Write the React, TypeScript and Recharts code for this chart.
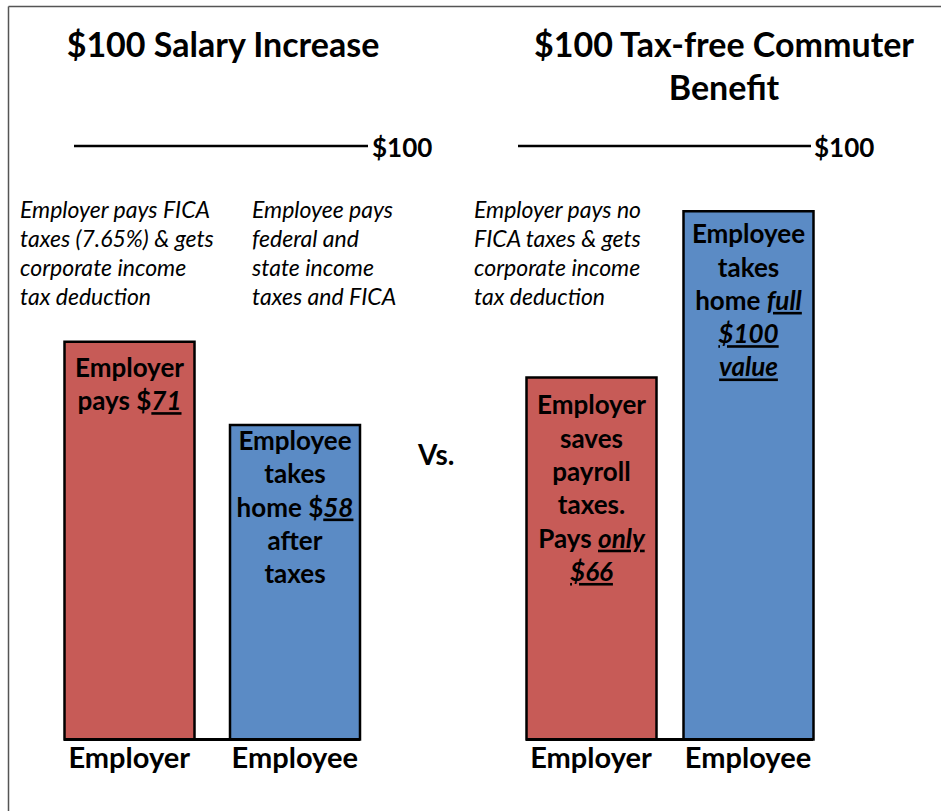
import React from 'react';
import { BarChart, Bar, XAxis, YAxis, Cell, LabelList, ReferenceLine } from 'recharts';

// ---------- data ----------
const categories = ['Employer', 'Employee'];
// bar heights as drawn, read against the $100 reference line
const salaryValues = [67, 53];
const commuterValues = [61, 89];
const referenceValue = 100;
const referenceLabel = '$100';
const salaryTitle = ['$100 Salary Increase'];
const commuterTitle = ['$100 Tax-free Commuter', 'Benefit'];
const salaryNotes = [
  ['Employer pays FICA', 'taxes (7.65%) & gets', 'corporate income', 'tax deduction'],
  ['Employee pays', 'federal and', 'state income', 'taxes and FICA'],
];
const commuterNotes = [['Employer pays no', 'FICA taxes & gets', 'corporate income', 'tax deduction']];
// segments wrapped in _..._ are italic + underlined
const salaryBarText = [
  ['Employer', 'pays $_71_'],
  ['Employee', 'takes', 'home $_58_', 'after', 'taxes'],
];
const commuterBarText = [
  ['Employer', 'saves', 'payroll', 'taxes.', 'Pays _only_', '_$66_'],
  ['Employee', 'takes', 'home _full_', '_$100_', '_value_'],
];
const versusLabel = 'Vs.';
const seriesColors = ['#C75B57', '#5B8BC5'];

// ---------- style ----------
const FONT = "Lato, 'Liberation Sans', sans-serif";
const W = 941;
const H = 811;

function renderStyledLines(lines: string[], cx: number, y0: number, lh: number, fontSize: number) {
  return (
    <text x={cx} y={y0} textAnchor="middle" fontFamily={FONT} fontWeight={700} fontSize={fontSize} fill="#000">
      {lines.map((line, li) => (
        <tspan key={li} x={cx} y={y0 + li * lh}>
          {line.split('_').map((seg, si) =>
            si % 2 === 1 ? (
              <tspan key={si} fontStyle="italic" textDecoration="underline">{seg}</tspan>
            ) : (
              <tspan key={si}>{seg}</tspan>
            )
          )}
        </tspan>
      ))}
    </text>
  );
}

type PanelProps = {
  left: number;
  width: number;
  values: number[];
  barText: string[][];
  plotLeft: number;
  plotRight: number;
  pad: number;
  lineDx: [number, number, number];
  labelOffsets: number[];
};

function Panel({ left, width, values, barText, plotLeft, plotRight, pad, lineDx, labelOffsets }: PanelProps) {
  const data = categories.map((c, i) => ({ category: c, value: values[i] }));
  const refShape = (p: any) => (
    <g>
      <line x1={p.x1 + lineDx[0]} x2={p.x2 + lineDx[1]} y1={p.y1} y2={p.y2} stroke="#000" strokeWidth={2.5} />
      <text x={p.x2 + lineDx[2]} y={p.y1 + 11} fontFamily={FONT} fontWeight={700} fontSize={26} fill="#000">
        {referenceLabel}
      </text>
    </g>
  );
  const labelContent = (p: any) => {
    const idx = p.index ?? 0;
    const cx = Number(p.x) + Number(p.width) / 2;
    const top = Number(p.y);
    return renderStyledLines(barText[idx], cx, top + labelOffsets[idx], 33.3, 26);
  };
  return (
    <div style={{ position: 'absolute', left, top: 0 }}>
      <BarChart
        width={width}
        height={H}
        data={data}
        margin={{ top: 146, right: width - plotRight, bottom: 41.5, left: plotLeft }}
        barSize={130}
      >
        <YAxis hide domain={[0, referenceValue]} width={0} />
        <XAxis
          dataKey="category"
          padding={{ left: -pad, right: -pad }}
          axisLine={{ stroke: '#000', strokeWidth: 3 }}
          tickLine={false}
          height={30}
          interval={0}
          tick={{ fill: '#000', fontSize: 29, fontWeight: 700, fontFamily: FONT }}
        />
        <ReferenceLine y={referenceValue} shape={refShape} ifOverflow="visible" />
        <Bar dataKey="value" stroke="#000" strokeWidth={2.5} isAnimationActive={false}>
          {data.map((d, i) => (
            <Cell key={d.category} fill={seriesColors[i]} />
          ))}
          <LabelList dataKey="value" content={labelContent} />
        </Bar>
      </BarChart>
    </div>
  );
}

function Notes({ lines, x, y }: { lines: string[]; x: number; y: number }) {
  return (
    <text x={x} y={y} fontFamily={FONT} fontStyle="italic" fontSize={23} fill="#000">
      {lines.map((l, i) => (
        <tspan key={i} x={x} y={y + i * 29}>
          {l}
        </tspan>
      ))}
    </text>
  );
}

export default function App() {
  return (
    <div style={{ position: 'absolute', left: 0, top: 0, width: W, height: H, overflow: 'hidden', background: '#fff' }}>
      <svg width={W} height={H} style={{ position: 'absolute', left: 0, top: 0 }}>
        <line x1={8.5} y1={6.5} x2={W} y2={6.5} stroke="#555" strokeWidth={1.5} />
        <line x1={8.5} y1={6.5} x2={8.5} y2={H} stroke="#555" strokeWidth={1.5} />
        {renderStyledLines(salaryTitle, 223, 57, 43, 34)}
        {renderStyledLines(commuterTitle, 724, 57, 43, 34)}
        <Notes lines={salaryNotes[0]} x={20} y={218} />
        <Notes lines={salaryNotes[1]} x={252} y={218} />
        <Notes lines={commuterNotes[0]} x={474} y={218} />
        <text x={418} y={465} fontFamily={FONT} fontWeight={700} fontSize={28} fill="#000">
          {versusLabel}
        </text>
      </svg>
      <Panel
        left={0}
        width={470}
        values={salaryValues}
        barText={salaryBarText}
        plotLeft={64}
        plotRight={360}
        pad={17.5}
        lineDx={[10, 8, 12]}
        labelOffsets={[35, 25]}
      />
      <Panel
        left={470}
        width={471}
        values={commuterValues}
        barText={commuterBarText}
        plotLeft={56}
        plotRight={343}
        pad={13.5}
        lineDx={[-8, -2, 1]}
        labelOffsets={[37, 32]}
      />
    </div>
  );
}
